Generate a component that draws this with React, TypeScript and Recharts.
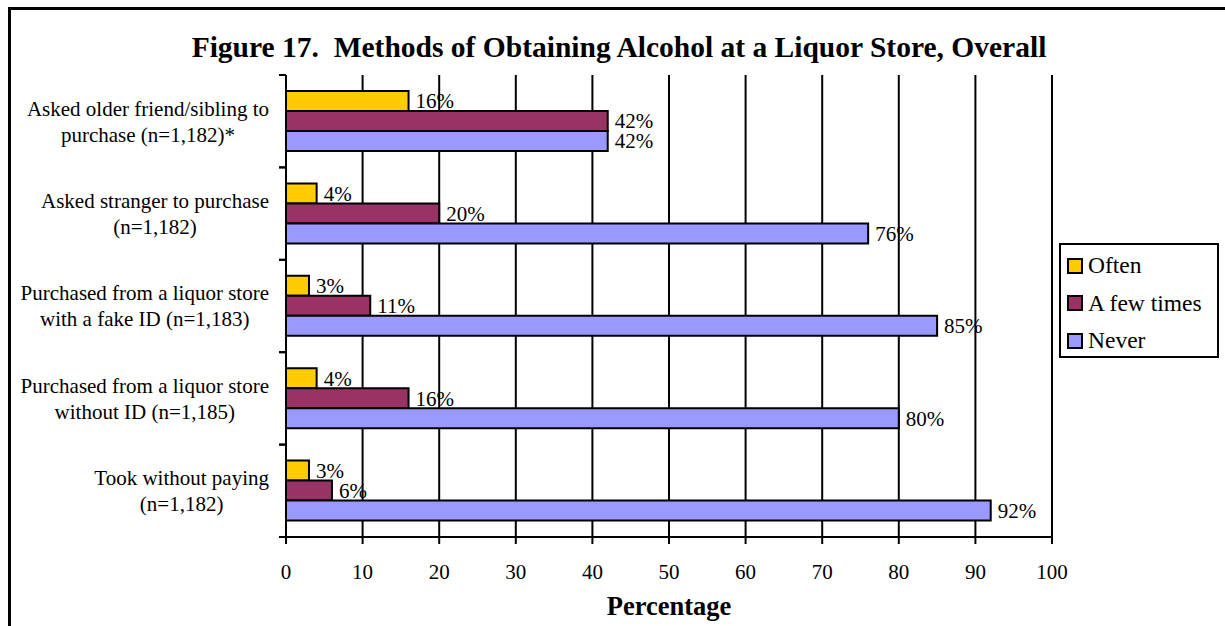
import { BarChart, Bar, XAxis, YAxis, CartesianGrid, Legend, LabelList } from "recharts";

const categories = [
  "Asked older friend/sibling to\npurchase (n=1,182)*",
  "Asked stranger to purchase\n(n=1,182)",
  "Purchased from a liquor store\nwith a fake ID (n=1,183)",
  "Purchased from a liquor store\nwithout ID (n=1,185)",
  "Took without paying\n(n=1,182)",
];
const often = [16, 4, 3, 4, 3];
const fewTimes = [42, 20, 11, 16, 6];
const never = [42, 76, 85, 80, 92];
const xTicks = [0, 10, 20, 30, 40, 50, 60, 70, 80, 90, 100];

const SERIES = [
  { key: "often", label: "Often", color: "#FFCC00" },
  { key: "fewTimes", label: "A few times", color: "#993366" },
  { key: "never", label: "Never", color: "#9999FF" },
];

const data = categories.map((name, i) => ({
  name,
  often: often[i],
  fewTimes: fewTimes[i],
  never: never[i],
}));

const FONT = "'Liberation Serif', 'Times New Roman', serif";
const W = 1225;
const H = 626;
const MARGIN = { top: 75, right: 173, left: 0, bottom: 0 };
const X_AXIS_H = 89;
const BAND = (H - MARGIN.top - X_AXIS_H) / categories.length;
const CAT_FONT = 21;

let ctx: CanvasRenderingContext2D | null = null;
const measure = (s: string, font: string) => {
  if (!ctx) ctx = document.createElement("canvas").getContext("2d");
  if (!ctx) return s.length * 9;
  ctx.font = font;
  return ctx.measureText(s).width;
};

const CategoryTick = (props: any) => {
  const { x, y, payload } = props;
  const lines = String(payload.value).split("\n");
  const maxW = Math.max(...lines.map((l) => measure(l, `${CAT_FONT}px ${FONT}`)));
  const cx = x - maxW / 2;
  const lh = 26;
  const start = y - ((lines.length - 1) * lh) / 2;
  const axisX = x + 17;
  return (
    <g>
      <line x1={axisX - 7} x2={axisX} y1={y - BAND / 2} y2={y - BAND / 2} stroke="#000" strokeWidth={2} />
      <line x1={axisX - 7} x2={axisX} y1={y + BAND / 2} y2={y + BAND / 2} stroke="#000" strokeWidth={2} />
      {lines.map((l, i) => (
        <text
          key={i}
          x={cx}
          y={start + i * lh}
          dy="0.35em"
          textAnchor="middle"
          fontFamily={FONT}
          fontSize={CAT_FONT}
          fill="#000"
        >
          {l}
        </text>
      ))}
    </g>
  );
};

const LegendBox = () => (
  <div style={{ fontFamily: FONT, fontSize: 23.5, color: "#000" }}>
    {SERIES.map((s) => (
      <div
        key={s.key}
        style={{ display: "flex", alignItems: "center", height: 37.5, paddingLeft: 6 }}
      >
        <span
          style={{
            display: "inline-block",
            width: 12,
            height: 12,
            background: s.color,
            border: "2px solid #000",
            marginRight: 5,
          }}
        />
        <span>{s.label}</span>
      </div>
    ))}
  </div>
);

export default function App() {
  return (
    <div
      style={{
        position: "fixed",
        left: 0,
        top: 0,
        width: W,
        height: H,
        overflow: "hidden",
        background: "#fff",
      }}
    >
      <div
        style={{
          position: "absolute",
          left: 8,
          top: 7,
          width: 1400,
          height: 800,
          border: "3px solid #000",
        }}
      />
      <div
        style={{
          position: "absolute",
          left: 0,
          top: 28,
          width: 1238,
          textAlign: "center",
          fontFamily: FONT,
          fontWeight: "bold",
          fontSize: 29.5,
          lineHeight: "38px",
        }}
      >
        Figure 17.&nbsp; Methods of Obtaining Alcohol at a Liquor Store, Overall
      </div>
      <div style={{ position: "absolute", left: 0, top: 0 }}>
        <BarChart
          width={W}
          height={H}
          data={data}
          layout="vertical"
          margin={MARGIN}
          barSize={20}
          barGap={0}
        >
          <CartesianGrid horizontal={false} stroke="#000" strokeWidth={2} />
          <XAxis
            type="number"
            domain={[0, 100]}
            ticks={xTicks}
            interval={0}
            height={X_AXIS_H}
            tickSize={7}
            tickMargin={20}
            axisLine={{ stroke: "#000", strokeWidth: 2 }}
            tickLine={{ stroke: "#000", strokeWidth: 2 }}
            tick={{ fill: "#000", fontFamily: FONT, fontSize: 21 }}
            label={{
              value: "Percentage",
              position: "insideBottom",
              offset: 11,
              fill: "#000",
              fontFamily: FONT,
              fontSize: 26.5,
              fontWeight: "bold",
            }}
          />
          <XAxis
            xAxisId="top"
            orientation="top"
            type="number"
            domain={[0, 100]}
            height={0}
            tick={false}
            tickLine={false}
            axisLine={{ stroke: "#808080", strokeWidth: 2 }}
          />
          <YAxis
            type="category"
            dataKey="name"
            width={286}
            tickSize={0}
            tickMargin={17}
            tickLine={false}
            interval={0}
            axisLine={{ stroke: "#000", strokeWidth: 2 }}
            tick={<CategoryTick />}
          />
          <YAxis
            yAxisId="right"
            orientation="right"
            type="category"
            dataKey="name"
            width={0}
            tick={false}
            tickLine={false}
            axisLine={{ stroke: "#808080", strokeWidth: 2.5 }}
          />
          <Legend
            layout="horizontal"
            align="center"
            verticalAlign="middle"
            content={<LegendBox />}
            wrapperStyle={{
              left: 1059,
              top: 243,
              width: 160,
              height: 115,
              border: "2px solid #000",
              boxSizing: "border-box",
              background: "#fff",
              paddingTop: 2,
            }}
          />
          {SERIES.map((s) => (
            <Bar
              key={s.key}
              dataKey={s.key}
              name={s.label}
              fill={s.color}
              stroke="#000"
              strokeWidth={2}
              isAnimationActive={false}
            >
              <LabelList
                dataKey={s.key}
                position="right"
                offset={7}
                formatter={(v: any) => `${v}%`}
                fill="#000"
                fontFamily={FONT}
                fontSize={21}
              />
            </Bar>
          ))}
        </BarChart>
      </div>
    </div>
  );
}
